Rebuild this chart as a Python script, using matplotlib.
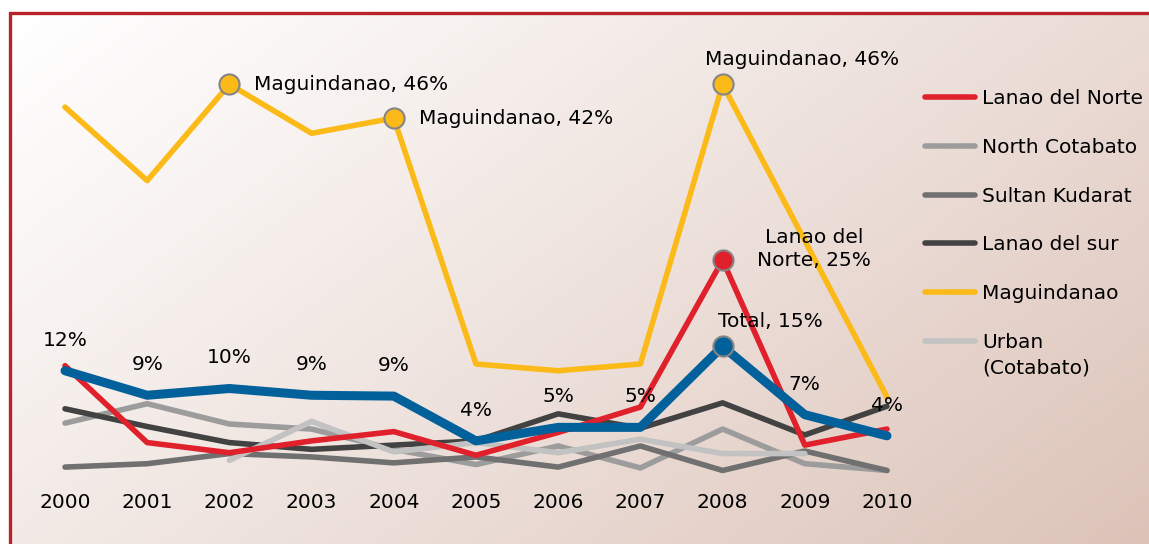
import numpy as np
import matplotlib
matplotlib.use("Agg")
import matplotlib.pyplot as plt
from matplotlib.colors import to_rgb

plt.rcParams['font.family'] = ['DejaVu Sans']

# ---------------- data ----------------
years = [2000, 2001, 2002, 2003, 2004, 2005, 2006, 2007, 2008, 2009, 2010]
lanao_norte = [12.7, 3.6, 2.4, 3.8, 4.9, 2.1, 4.8, 7.8, 25.2, 3.3, 5.2]
north_cotabato = [5.9, 8.2, 5.8, 5.2, 2.8, 1.0, 3.2, 0.6, 5.2, 1.1, 0.3]
sultan_kudarat = [0.7, 1.1, 2.3, 1.9, 1.2, 1.9, 0.7, 3.2, 0.3, 2.6, 0.3]
lanao_sur = [7.6, 5.5, 3.6, 2.8, 3.3, 3.8, 7.0, 5.3, 8.3, 4.5, 7.9]
maguindanao = [43.3, 34.6, 46.0, 40.2, 42.0, 12.9, 12.1, 12.9, 46.0, 27.5, 9.0]
urban_years = [2002, 2003, 2004, 2005, 2006, 2007, 2008, 2009]
urban = [1.5, 6.1, 2.5, 3.6, 2.4, 4.0, 2.3, 2.3]
total = [12.1, 9.2, 10.0, 9.2, 9.1, 3.8, 5.4, 5.4, 15.0, 6.9, 4.4]

series_names = ["Lanao del Norte", "North Cotabato", "Sultan Kudarat",
                "Lanao del sur", "Maguindanao", "Urban"]
urban_second_line = "(Cotabato)"

W, H = 1149, 544
fig = plt.figure(figsize=(W / 100, H / 100), dpi=100)

# ---------------- background ----------------
bg = fig.add_axes([0, 0, 1, 1], zorder=0)
bg.set_xlim(0, W)
bg.set_ylim(H, 0)
bg.axis('off')
xx, yy = np.meshgrid(np.linspace(0, 1, 300), np.linspace(0, 1, 150))
t = np.clip(0.62 * xx + 0.38 * yy, 0, 1) ** 1.1
c0 = np.array(to_rgb('#ffffff'))
c1 = np.array(to_rgb('#dcc3b8'))
img = c0[None, None, :] * (1 - t[..., None]) + c1[None, None, :] * t[..., None]
bg.imshow(img, extent=[10, W, H, 13], aspect='auto', interpolation='bilinear')
bg.plot([10, 10, W + 5], [H + 5, 13, 13], color='#b8232a', lw=2.4,
        solid_joinstyle='miter', clip_on=False)

# ---------------- main axes ----------------
ppy = (887 - 65) / 10.0
ppv = 8.45
bottom_px = 478
ax = fig.add_axes([0, (H - bottom_px) / H, 1, bottom_px / H], zorder=1)
ax.patch.set_alpha(0)
ax.set_xlim(2000 - 65 / ppy, 2000 + (W - 65) / ppy)
ax.set_ylim((473 - bottom_px) / ppv, 473 / ppv)
for s in ax.spines.values():
    s.set_visible(False)
ax.set_yticks([])
ax.set_xticks(years)
ax.set_xticklabels([str(y) for y in years], fontsize=14.5)
ax.tick_params(axis='x', length=0, pad=11)

lw = 4.0
common = dict(solid_capstyle='round', solid_joinstyle='round', clip_on=False)
h_nc, = ax.plot(years, north_cotabato, color='#9c9c9c', lw=lw, zorder=2, **common)
h_sk, = ax.plot(years, sultan_kudarat, color='#707070', lw=lw, zorder=2, **common)
h_ls, = ax.plot(years, lanao_sur, color='#424242', lw=lw, zorder=3, **common)
h_ur, = ax.plot(urban_years, urban, color='#c2c2c2', lw=lw, zorder=4, **common)
h_ln, = ax.plot(years, lanao_norte, color='#e0202b', lw=lw, zorder=5, **common)
h_mg, = ax.plot(years, maguindanao, color='#fbba18', lw=lw, zorder=6, **common)
h_tot, = ax.plot(years, total, color='#02609a', lw=6.5, zorder=7, **common)

mk = dict(marker='o', markersize=14.5, markeredgecolor='#858585',
          markeredgewidth=1.5, linestyle='none', clip_on=False)
mg_idx = [2, 4, 8]
ax.plot([years[i] for i in mg_idx], [maguindanao[i] for i in mg_idx],
        color='#fbba18', zorder=8, **mk)
ax.plot([years[8]], [lanao_norte[8]], color='#e0202b', zorder=8, **mk)
ax.plot([years[8]], [total[8]], color='#02609a', zorder=8, **mk)

fs = 14.5
# total labels
for i, (x, v) in enumerate(zip(years, total)):
    if i == 8:
        ax.annotate(f"Total, {v:.0f}%", (x, v), xytext=(34.5, 17.5),
                    textcoords='offset points', ha='center', va='center',
                    fontsize=fs, zorder=9)
    else:
        ax.annotate(f"{v:.0f}%", (x, v), xytext=(0, 22),
                    textcoords='offset points', ha='center', va='center',
                    fontsize=fs, zorder=9)

# Maguindanao labels
for i in [2, 4]:
    ax.annotate(f"Maguindanao, {maguindanao[i]:.0f}%", (years[i], maguindanao[i]),
                xytext=(18, 0), textcoords='offset points', ha='left',
                va='center', fontsize=fs, zorder=9)
ax.annotate(f"Maguindanao, {maguindanao[8]:.0f}%", (years[8], maguindanao[8]),
            xytext=(57, 17.5), textcoords='offset points', ha='center',
            va='center', fontsize=fs, zorder=9)
ax.annotate(f"Lanao del\nNorte, {lanao_norte[8]:.0f}%", (years[8], lanao_norte[8]),
            xytext=(66, 8), textcoords='offset points', ha='center',
            va='center', multialignment='center', fontsize=fs,
            linespacing=1.3, zorder=9)

# legend
fpx = fs * 100 / 72
leg = ax.legend([h_ln, h_nc, h_sk, h_ls, h_mg, h_ur], series_names,
                loc='upper left', bbox_to_anchor=(925 / W, 1 - 89 / H),
                bbox_transform=fig.transFigure, frameon=False, borderpad=0,
                borderaxespad=0, handlelength=50 / fpx, handletextpad=7 / fpx,
                labelspacing=1.48, fontsize=fs)
for ln in leg.get_lines():
    ln.set_linewidth(4.0)
    ln.set_solid_capstyle('round')
fig.text(982 / W, 1 - 368 / H, urban_second_line, ha='left', va='center',
         fontsize=fs, zorder=10)

fig.savefig('out.png', dpi=100)
